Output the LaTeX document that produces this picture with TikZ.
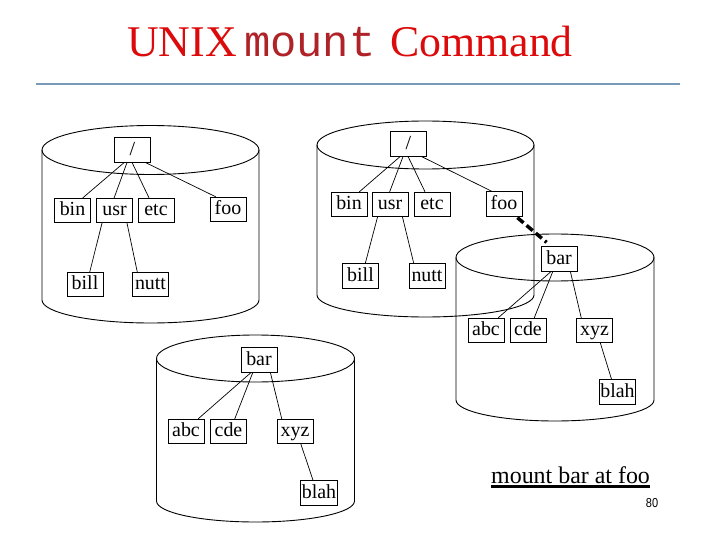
\documentclass[tikz,border=0pt]{standalone}
\usepackage{fontspec}
\setmainfont{Liberation Serif}
\newfontfamily\monofnt{Liberation Mono}
\newfontfamily\sansfnt{Liberation Sans}
\usetikzlibrary{calc}
\definecolor{titlered}{RGB}{220,10,10}
\definecolor{monored}{RGB}{175,35,40}
\definecolor{rulecol}{RGB}{122,154,186}
\tikzset{
  fbox/.style={draw,line width=0.8bp,minimum width=36bp,inner xsep=1bp,inner ysep=3.5bp,text height=14bp,text depth=3.5bp,font=\fontsize{20}{22}\selectfont},
  cylline/.style={line width=0.9bp},
  edge/.style={line width=0.7bp},
  mountline/.style={line width=3.5bp,dash pattern=on 8bp off 4bp},
}
\newcommand\mycyl[6]{% cx, topy, boty, rx, ryt, ryb
  \draw[cylline] (#1,#2) ellipse [x radius=#4bp, y radius=#5bp];
  \draw[cylline] ($(#1,#2)+(-#4,0)$) -- ($(#1,#3)+(-#4,0)$)
     arc[start angle=180,end angle=360,x radius=#4bp,y radius=#6bp] -- ($(#1,#2)+(#4,0)$);
}
\begin{document}
\begin{tikzpicture}[x=1bp,y=-1bp]
\useasboundingbox (0,0) rectangle (720,540);
% title
\node[anchor=base west,inner sep=0,font=\fontsize{44}{48}\selectfont] (title) at (127,57)
  {\textcolor{titlered}{UNIX}\,\textcolor{monored}{\monofnt mount}\,\,\textcolor{titlered}{Command}};
\draw[rulecol,line width=2.5bp] (36,84) -- (680,84);

% cylinders
\mycyl{150.5}{150}{300}{108.5}{24.5}{23}
\mycyl{425.5}{145}{295}{108.5}{24}{22}
\mycyl{555}{257.5}{400}{99}{23.5}{21}
\mycyl{255.5}{358.5}{501}{99}{23.5}{21}

% tree 1
\node[fbox] (r1) at (132.5,150) {/};
\node[fbox] (bin1) at (72.5,210.5) {bin};
\node[fbox] (usr1) at (114.5,210.5) {usr};
\node[fbox] (etc1) at (156,210.5) {etc};
\node[fbox] (foo1) at (228,209.5) {foo};
\node[fbox] (bill1) at (85,284.5) {bill};
\node[fbox] (nutt1) at (150.5,284.5) {nutt};
\draw[edge] ($(r1.south west)!0.27!(r1.south east)$) -- ($(bin1.north west)!0.78!(bin1.north east)$);
\draw[edge] ($(r1.south west)!0.35!(r1.south east)$) -- ($(usr1.north west)!0.49!(usr1.north east)$);
\draw[edge] ($(r1.south west)!0.49!(r1.south east)$) -- ($(etc1.north west)!0.31!(etc1.north east)$);
\draw[edge] ($(r1.south west)!0.86!(r1.south east)$) -- ($(foo1.north west)!0.17!(foo1.north east)$);
\draw[edge] ($(usr1.south west)!0.16!(usr1.south east)$) -- ($(bill1.north west)!0.63!(bill1.north east)$);
\draw[edge] ($(usr1.south west)!0.84!(usr1.south east)$) -- ($(nutt1.north west)!0.14!(nutt1.north east)$);

% tree 2
\node[fbox] (r2) at (408.5,144) {/};
\node[fbox] (bin2) at (349,204.5) {bin};
\node[fbox] (usr2) at (390,204.5) {usr};
\node[fbox] (etc2) at (432,204.5) {etc};
\node[fbox] (foo2) at (504,204) {foo};
\node[fbox] (bill2) at (360.5,276) {bill};
\node[fbox] (nutt2) at (427,276) {nutt};
\draw[edge] ($(r2.south west)!0.27!(r2.south east)$) -- ($(bin2.north west)!0.78!(bin2.north east)$);
\draw[edge] ($(r2.south west)!0.35!(r2.south east)$) -- ($(usr2.north west)!0.49!(usr2.north east)$);
\draw[edge] ($(r2.south west)!0.49!(r2.south east)$) -- ($(etc2.north west)!0.31!(etc2.north east)$);
\draw[edge] ($(r2.south west)!0.86!(r2.south east)$) -- ($(foo2.north west)!0.17!(foo2.north east)$);
\draw[edge] ($(usr2.south west)!0.16!(usr2.south east)$) -- ($(bill2.north west)!0.63!(bill2.north east)$);
\draw[edge] ($(usr2.south west)!0.84!(usr2.south east)$) -- ($(nutt2.north west)!0.14!(nutt2.north east)$);

% tree 3 (mounted)
\node[fbox] (bar3) at (559,259) {bar};
\node[fbox] (abc3) at (486,330.5) {abc};
\node[fbox] (cde3) at (528,330.5) {cde};
\node[fbox] (xyz3) at (594.5,330.5) {xyz};
\node[fbox] (blah3) at (617.5,392) {blah};
\draw[edge] ($(bar3.south west)!0.28!(bar3.south east)$) -- ($(abc3.north west)!0.83!(abc3.north east)$);
\draw[edge] ($(bar3.south west)!0.33!(bar3.south east)$) -- ($(cde3.north west)!0.67!(cde3.north east)$);
\draw[edge] ($(bar3.south west)!0.81!(bar3.south east)$) -- ($(xyz3.north west)!0.14!(xyz3.north east)$);
\draw[edge] ($(xyz3.south west)!0.66!(xyz3.south east)$) -- ($(blah3.north west)!0.34!(blah3.north east)$);

% tree 4
\node[fbox] (bar4) at (259,360) {bar};
\node[fbox] (abc4) at (186,431.5) {abc};
\node[fbox] (cde4) at (228.5,431.5) {cde};
\node[fbox] (xyz4) at (295,431.5) {xyz};
\node[fbox] (blah4) at (319,493) {blah};
\draw[edge] ($(bar4.south west)!0.28!(bar4.south east)$) -- ($(abc4.north west)!0.83!(abc4.north east)$);
\draw[edge] ($(bar4.south west)!0.33!(bar4.south east)$) -- ($(cde4.north west)!0.67!(cde4.north east)$);
\draw[edge] ($(bar4.south west)!0.81!(bar4.south east)$) -- ($(xyz4.north west)!0.14!(xyz4.north east)$);
\draw[edge] ($(xyz4.south west)!0.66!(xyz4.south east)$) -- ($(blah4.north west)!0.34!(blah4.north east)$);

% mount link
\draw[mountline] ($(foo2.south east)+(-5,1)$) -- ($(bar3.north west)+(6,-4)$);

% caption
\node[anchor=base west,inner sep=0,font=\fontsize{24}{26}\selectfont] (cap) at (491,483) {mount bar at foo};
\draw[line width=2.2bp] ($(cap.base west)+(0,3.5)$) -- ($(cap.base east)+(0,3.5)$);
\node[inner sep=0,font=\sansfnt\fontsize{13}{14}\selectfont,xscale=0.85] (pg) at (652,503) {80};
\end{tikzpicture}
\end{document}
